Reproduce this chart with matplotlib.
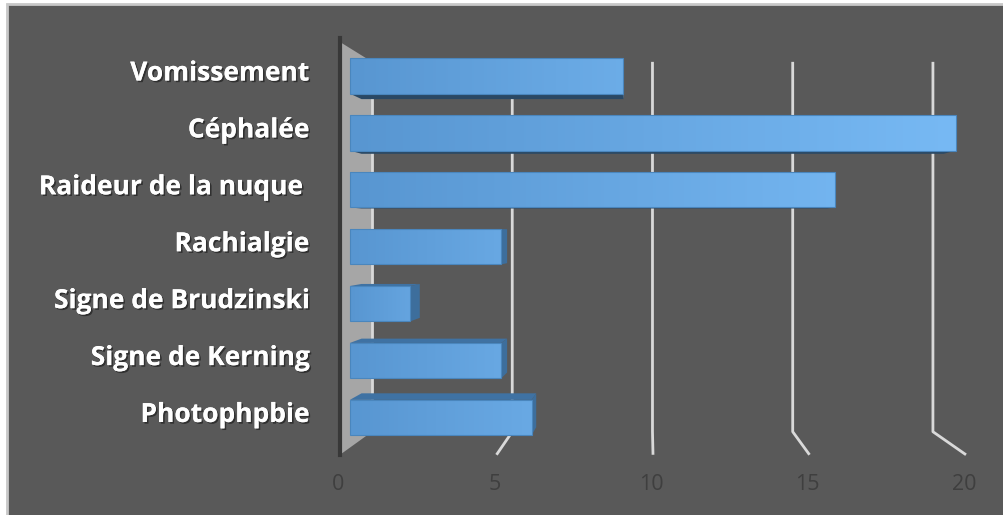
import numpy as np
import matplotlib.pyplot as plt
import matplotlib.patheffects as pe
from matplotlib.patches import Polygon, Rectangle
from matplotlib.colors import LinearSegmentedColormap

# Symptom counts (top to bottom as displayed)
categories = ['Vomissement', 'Céphalée', 'Raideur de la nuque ', 'Rachialgie',
              'Signe de Brudzinski', 'Signe de Kerning', 'Photophpbie']
values = [9, 20, 16, 5, 2, 5, 6]
ticks = [0, 5, 10, 15, 20]

# fake-3D projection: data coords are (value, row) on the front floor plane,
# depth scale s shrinks points towards a vanishing point
VP = (9.84, 3.24)
S_BAR_FRONT, S_BAR_BACK, S_WALL = 0.968, 0.93, 0.896
ROW_LO, ROW_HI = -0.53, 6.49
HALF = 0.31


def proj(v, c, s):
    return (VP[0] + (v - VP[0]) * s, VP[1] + (c - VP[1]) * s)


fig = plt.figure(figsize=(10.04, 5.15), dpi=100, facecolor='white')
ax = fig.add_axes([0, 0, 1, 1])
ax.set_xlim(-340 / 31.3, 664 / 31.3)
ax.set_ylim((423.6 - 515) / 58.8, 423.6 / 58.8)
ax.axis('off')

# chart area
ax.add_patch(Rectangle((0.007, -0.1), 1.2, 1.092, transform=ax.transAxes,
                       facecolor='#595959', edgecolor='#c8c8c8', lw=2, zorder=0))

# side wall
wall = [proj(0, ROW_HI, 1), proj(0, ROW_HI, S_WALL),
        proj(0, ROW_LO, S_WALL), proj(0, ROW_LO, 1)]
ax.add_patch(Polygon(wall, closed=True, facecolor='#a6a6a6', edgecolor='none', zorder=1))

# gridlines on back wall + floor
for t in ticks:
    pts = [proj(t, ROW_HI, S_WALL), proj(t, ROW_LO, S_WALL), proj(t, ROW_LO, 1)]
    if t == 0:
        pts = pts[:2]
    xs, ys = zip(*pts)
    ax.plot(xs, ys, color='#d9d9d9', lw=2, zorder=2, solid_capstyle='butt')

# value axis line
ax.plot([0, 0], [ROW_LO, ROW_HI + 0.07], color='#383838', lw=3, zorder=2)

cmap = LinearSegmentedColormap.from_list('bar', ['#5896d1', '#77b9f4'])
nrows = len(categories)
for i, (name, val) in enumerate(zip(categories, values)):
    c = nrows - 1 - i
    lo, hi = c - HALF, c + HALF
    z = 3 + i * 0.01
    # bottom / top face
    if lo > VP[1]:
        face = [proj(0, lo, S_BAR_FRONT), proj(val, lo, S_BAR_FRONT),
                proj(val, lo, S_BAR_BACK), proj(0, lo, S_BAR_BACK)]
        ax.add_patch(Polygon(face, closed=True, facecolor='#2a4864', edgecolor='none', zorder=z))
    if hi < VP[1]:
        face = [proj(0, hi, S_BAR_FRONT), proj(val, hi, S_BAR_FRONT),
                proj(val, hi, S_BAR_BACK), proj(0, hi, S_BAR_BACK)]
        ax.add_patch(Polygon(face, closed=True, facecolor='#3f72a3', edgecolor='none', zorder=z))
    # right face
    if val < VP[0]:
        face = [proj(val, lo, S_BAR_FRONT), proj(val, hi, S_BAR_FRONT),
                proj(val, hi, S_BAR_BACK), proj(val, lo, S_BAR_BACK)]
        ax.add_patch(Polygon(face, closed=True, facecolor='#3d6e9c', edgecolor='none', zorder=z))
    # front face with horizontal gradient
    x0, y0 = proj(0, lo, S_BAR_FRONT)
    x1, y1 = proj(val, hi, S_BAR_FRONT)
    front = Polygon([(x0, y0), (x1, y0), (x1, y1), (x0, y1)], closed=True,
                    facecolor='none', edgecolor='#4a86bd', lw=0.8, zorder=z + 0.005)
    ax.add_patch(front)
    strength = 0.35 + 0.65 * val / max(values)
    grad = np.linspace(0, strength, 256).reshape(1, -1)
    im = ax.imshow(grad, extent=(x0, x1, y0, y1), cmap=cmap, vmin=0, vmax=1,
                   aspect='auto', zorder=z + 0.002, interpolation='bilinear')
    im.set_clip_path(front)

    # category label
    lx, ly = proj(0, c, S_BAR_FRONT)
    ax.annotate(name, (lx, ly), xytext=(-41, 3), textcoords='offset pixels',
                ha='right', va='center', fontsize=19, fontweight='bold',
                color='white', family=['Open Sans', 'DejaVu Sans'], zorder=10,
                path_effects=[pe.withSimplePatchShadow(offset=(1.2, -1.2),
                                                        shadow_rgbFace='black', alpha=0.45),
                              pe.Normal()])

# tick labels under the floor
for t in ticks:
    tx, ty = proj(t, ROW_LO, 1)
    ax.annotate(str(t), (tx, ty), xytext=(-2, -30), textcoords='offset pixels',
                ha='center', va='center', fontsize=15.5, color='#3f3f3f',
                family=['Open Sans', 'DejaVu Sans'], zorder=10)

plt.savefig('out.png', dpi=100, facecolor='white')
